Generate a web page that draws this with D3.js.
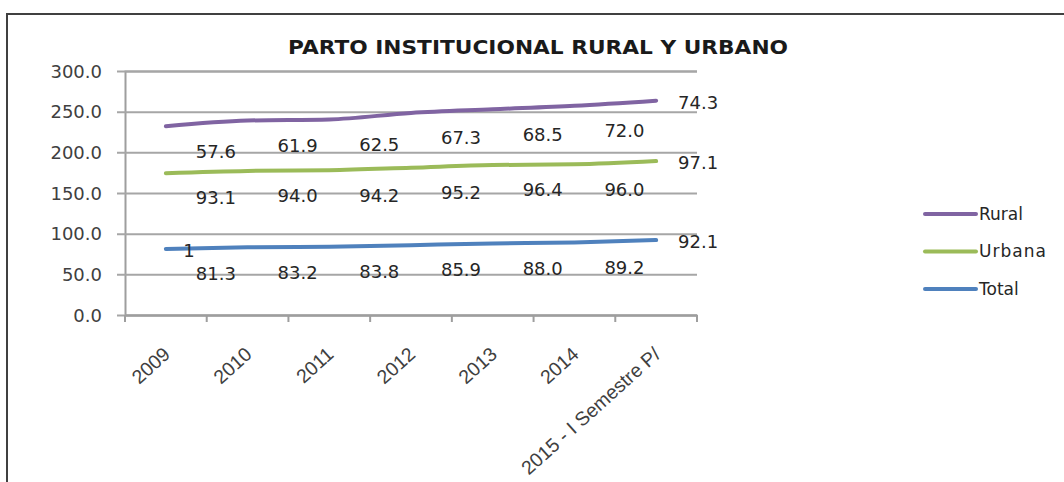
<!DOCTYPE html>
<html>
<head>
<meta charset="utf-8">
<script src="https://cdnjs.cloudflare.com/ajax/libs/d3/7.8.5/d3.min.js"></script>
<style>
  body { margin: 0; background: #fff; }
  svg { display: block; }
</style>
</head>
<body>
<div id="chart"></div>
<script>
const width = 1064;
const height = 482;

const years = ['2009', '2010', '2011', '2012', '2013', '2014', '2015 - I Semestre P/'];
const rural = [57.6, 61.9, 62.5, 67.3, 68.5, 72.0, 74.3];
const urbana = [93.1, 94.0, 94.2, 95.2, 96.4, 96.0, 97.1];
const total = [81.3, 83.2, 83.8, 85.9, 88.0, 89.2, 92.1];
const yTicks = [0, 50, 100, 150, 200, 250, 300];

const seriesNames = ['Total', 'Urbana', 'Rural'];
const colors = { Rural: '#8064a2', Urbana: '#9bbb59', Total: '#4f81bd' };

const rows = years.map((y, i) => ({ year: y, Total: total[i], Urbana: urbana[i], Rural: rural[i] }));
const stacked = d3.stack().keys(seriesNames)(rows);

const svg = d3.select('#chart')
  .append('svg')
  .attr('width', width)
  .attr('height', height);

// outer frame
svg.append('path')
  .attr('d', `M7,${height + 5} L7,14 L${width + 5},14`)
  .attr('fill', 'none')
  .attr('stroke', '#404040')
  .attr('stroke-width', 2);

const x = d3.scaleBand().domain(years).range([125, 697]).padding(0);
const y = d3.scaleLinear().domain([0, 300]).range([315, 71]);
const cx = d => x(d) + x.bandwidth() / 2;

// gridlines + y axis
const yAxis = d3.axisLeft(y)
  .tickValues(yTicks)
  .tickSize(-(697 - 125))
  .tickFormat(d3.format('.1f'));

const gy = svg.append('g')
  .attr('transform', 'translate(125,0)')
  .call(yAxis);
gy.select('.domain').attr('stroke', '#9e9e9e').attr('stroke-width', 2);
gy.selectAll('.tick line').attr('stroke', '#a6a6a6').attr('stroke-width', 2).attr('x1', -8);
gy.selectAll('.tick text')
  .attr('x', -23)
  .attr('dy', '0.35em')
  .style('font-family', 'DejaVu Sans, Verdana, sans-serif')
  .style('font-size', '18px')
  .style('fill', '#404040');

// x axis
const xAxis = d3.axisBottom(x).tickSize(0).tickSizeOuter(0);
const gx = svg.append('g')
  .attr('transform', 'translate(0,315)')
  .call(xAxis);
gx.select('.domain').attr('stroke', '#9e9e9e').attr('stroke-width', 2);
gx.selectAll('.tick text')
  .attr('text-anchor', 'end')
  .attr('transform', 'translate(1,36) rotate(-42)')
  .attr('y', 0)
  .attr('dy', '0.35em')
  .style('font-family', 'Liberation Sans, Arial, sans-serif')
  .style('font-size', '19.5px')
  .style('fill', '#404040');

// x tick marks at category boundaries
const bounds = years.map(d => x(d)).concat([x(years[years.length - 1]) + x.bandwidth()]);
gx.selectAll('.bound')
  .data(bounds)
  .enter()
  .append('line')
  .attr('class', 'bound')
  .attr('x1', d => d)
  .attr('x2', d => d)
  .attr('y1', 0)
  .attr('y2', 7)
  .attr('stroke', '#9e9e9e')
  .attr('stroke-width', 2);

// title
svg.append('text')
  .attr('x', 538)
  .attr('y', 54)
  .attr('text-anchor', 'middle')
  .attr('textLength', 500)
  .attr('lengthAdjust', 'spacingAndGlyphs')
  .text('PARTO INSTITUCIONAL RURAL Y URBANO')
  .style('font-family', 'DejaVu Sans, Verdana, sans-serif')
  .style('font-weight', 'bold')
  .style('font-size', '20px')
  .style('fill', '#1a1a1a');

// lines
const line = d3.line()
  .x(d => cx(d.data.year))
  .y(d => y(d[1]))
  .curve(d3.curveMonotoneX);

svg.selectAll('.series')
  .data(stacked)
  .enter()
  .append('path')
  .attr('class', 'series')
  .attr('d', d => line(d))
  .attr('fill', 'none')
  .attr('stroke', d => colors[d.key])
  .attr('stroke-width', 4)
  .attr('stroke-linecap', 'round');

// data labels (shifted like in the original)
const labelStyle = sel => sel
  .style('font-family', 'DejaVu Sans, Verdana, sans-serif')
  .style('font-size', '18px')
  .style('fill', '#262626');

stacked.forEach(s => {
  const n = s.length;
  svg.selectAll('.lbl-' + s.key)
    .data(s)
    .enter()
    .append('text')
    .attr('class', 'lbl-' + s.key)
    .attr('x', (d, i) => i === n - 1 ? cx(d.data.year) + 42 : cx(d.data.year) + 50)
    .attr('y', (d, i) => i === n - 1 ? y(d[1]) + 2 : y(d[1]) + 25)
    .attr('dy', '0.35em')
    .attr('text-anchor', 'middle')
    .text(d => d3.format('.1f')(d.data[s.key]))
    .call(labelStyle);
});

// stray label fragment in the original
svg.append('text')
  .attr('x', cx(years[0]) + 23)
  .attr('y', y(total[0]) + 2)
  .attr('dy', '0.35em')
  .attr('text-anchor', 'middle')
  .text('1')
  .call(labelStyle);

// legend
const legendNames = ['Rural', 'Urbana', 'Total'];
const legend = svg.selectAll('.legend')
  .data(legendNames)
  .enter()
  .append('g')
  .attr('class', 'legend')
  .attr('transform', (d, i) => `translate(925,${214 + i * 37.5})`);

legend.append('line')
  .attr('x1', 0)
  .attr('x2', 51)
  .attr('stroke', d => colors[d])
  .attr('stroke-width', 4)
  .attr('stroke-linecap', 'round');

legend.append('text')
  .attr('x', 54)
  .attr('dy', '0.35em')
  .text(d => d)
  .style('font-family', 'DejaVu Sans, Verdana, sans-serif')
  .style('font-size', '17px')
  .style('letter-spacing', d => d === 'Urbana' ? '1px' : '0px')
  .style('fill', '#262626');
</script>
</body>
</html>
